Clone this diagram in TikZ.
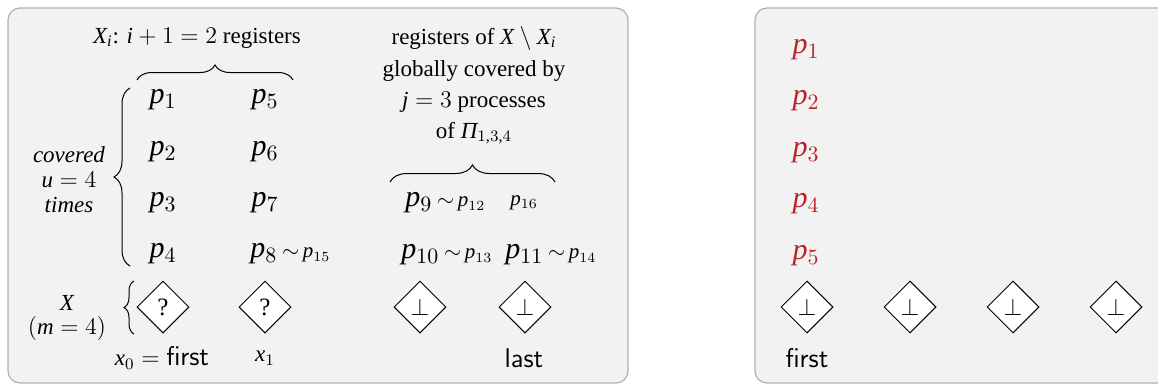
\documentclass[tikz,border=0pt]{standalone}
\usepackage{fontspec}
\setmainfont{Liberation Serif}
\newfontfamily\mtimes[NFSSFamily=mtimes]{Liberation Serif}
\DeclareSymbolFont{letters}{TU}{mtimes}{m}{it}
\DeclareSymbolFont{operators}{TU}{mtimes}{m}{n}
\mathcode`\,="602C
\usetikzlibrary{decorations.pathreplacing,shapes.geometric}
\definecolor{panelfill}{HTML}{F2F2F2}
\definecolor{panelline}{HTML}{B0B0B0}
\definecolor{pred}{RGB}{185,35,40}
\tikzset{
  panel/.style={draw=panelline,fill=panelfill,line width=0.6pt,rounded corners=6pt},
  txt/.style={inner sep=0pt,font=\fontsize{11.5}{14}\selectfont},
  preg/.style={inner sep=0pt,font=\fontsize{15}{18}\selectfont},
  rreg/.style={preg,text=pred},
  reg/.style={diamond,draw=black,fill=white,line width=0.5pt,minimum width=26pt,minimum height=26pt,inner sep=0pt,font=\fontsize{12.5}{14}\selectfont},
  brc/.style={decorate,line width=0.5pt},
}
\newcommand{\tl}[1]{\,{\scriptstyle\sim\, p_{#1}}}
\newcommand{\sfw}[1]{{\fontsize{13.5}{16}\selectfont\sffamily #1}}
\begin{document}
\begin{tikzpicture}[x=0.5pt,y=-0.5pt]
\useasboundingbox (0,0) rectangle (1158,386);
% panels
\draw[panel] (8,8) rectangle (628,383);
\begin{scope}
\clip (0,0) rectangle (1158,386);
\draw[panel] (755,8) rectangle (1180,383);
\end{scope}
% left panel header texts
\node[txt] (hdrA) at (197,38) {$X_i$: $i+1=2$ registers};
\node[txt] (hdrB1) at (474,38) {registers of $X\setminus X_i$};
\node[txt] (hdrB2) at (474,71) {globally covered by};
\node[txt] (hdrB3) at (474,102) {$j=3$ processes};
\node[txt] (hdrB4) at (474,133) {of $\hbox{\itshape Π}_{1,3,4}$};
% braces
\draw[brc,decoration={brace,amplitude=7.5pt}] (137,80) -- (293,80);
\draw[brc,decoration={brace,amplitude=8.5pt}] (390,182) -- (555,182);
\draw[brc,decoration={brace,amplitude=8pt}] (130,266) -- (130,88);
\draw[brc,decoration={brace,amplitude=5pt}] (134,334) -- (134,281);
% covered u=4 times
\node[txt] (cov1) at (69,155) {\itshape covered};
\node[txt] (cov2) at (69,180) {$u=4$};
\node[txt] (cov3) at (69,205) {\itshape times};
\node[txt] (xX) at (67,303) {$X$};
\node[txt] (xm) at (67,328) {$(m=4)$};
% registers Xi
\node[preg] (p1) at (163,100) {$p_1$};
\node[preg] (p2) at (163,152) {$p_2$};
\node[preg] (p3) at (163,203) {$p_3$};
\node[preg] (p4) at (163,254) {$p_4$};
\node[preg] (p5) at (265,100) {$p_5$};
\node[preg] (p6) at (265,152) {$p_6$};
\node[preg] (p7) at (265,203) {$p_7$};
\node[preg,anchor=west] (p8) at (250,254) {$p_8\tl{15}$};
% registers X \ Xi
\node[preg,anchor=west] (p9) at (405,203) {$p_9\tl{12}$};
\node[preg,anchor=west] (p16) at (510,203) {$\scriptstyle p_{16}$};
\node[preg,anchor=west] (p10) at (401,255) {$p_{10}\tl{13}$};
\node[preg,anchor=west] (p11) at (505,255) {$p_{11}\tl{14}$};
% diamonds left
\node[reg] (r0) at (163,307) {?};
\node[reg] (r1) at (265,307) {?};
\node[reg] (r2) at (420,307) {$\bot$};
\node[reg] (r3) at (525,307) {$\bot$};
\node[txt] (lx0) at (162,358) {$x_0=\hbox{\sfw{first}}$};
\node[txt] (lx1) at (265,358) {$x_1$};
\node[txt] (llast) at (524,358) {\sfw{last}};
% right panel
\node[rreg] (q1) at (806,50) {$p_1$};
\node[rreg] (q2) at (806,101) {$p_2$};
\node[rreg] (q3) at (806,153) {$p_3$};
\node[rreg] (q4) at (806,204) {$p_4$};
\node[rreg] (q5) at (806,256) {$p_5$};
\node[reg] (s0) at (807,307) {$\bot$};
\node[reg] (s1) at (910,307) {$\bot$};
\node[reg] (s2) at (1013,307) {$\bot$};
\node[reg] (s3) at (1116,307) {$\bot$};
\node[txt] (rfirst) at (807,358) {\sfw{first}};
\end{tikzpicture}
\end{document}
